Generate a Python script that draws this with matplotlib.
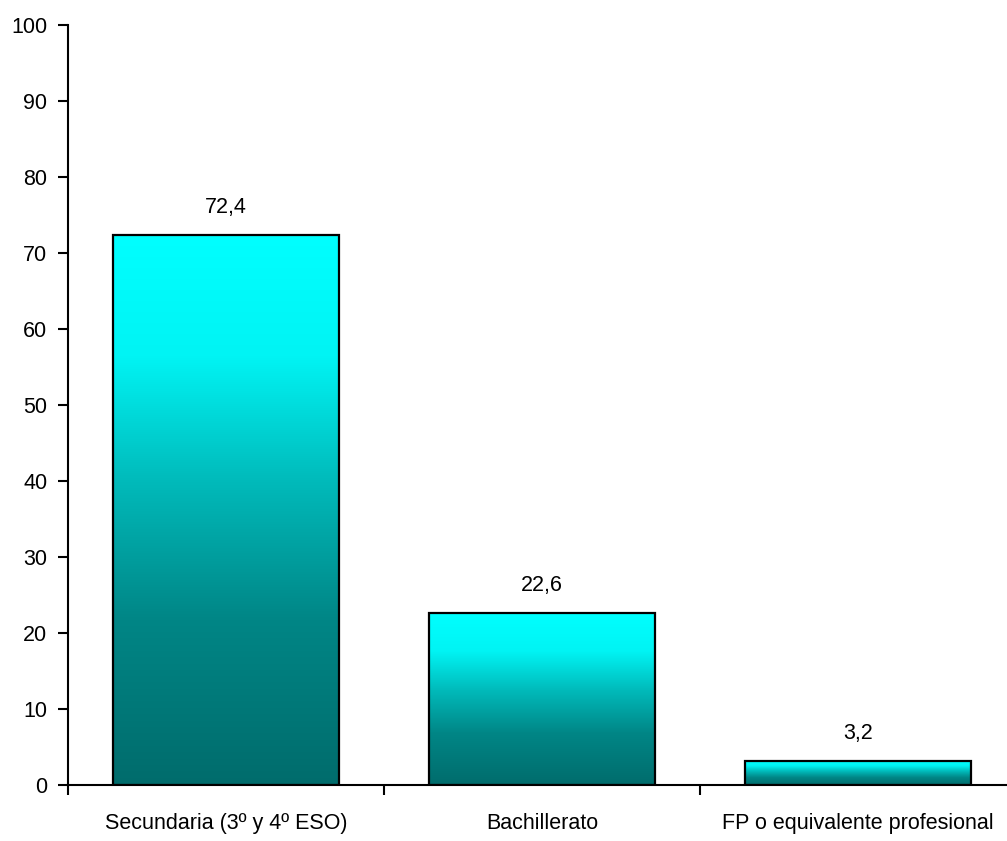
import matplotlib
matplotlib.use("Agg")
import matplotlib.pyplot as plt
import numpy as np
from matplotlib.colors import LinearSegmentedColormap

categories = ["Secundaria (3º y 4º ESO)", "Bachillerato", "FP o equivalente profesional"]
values = [72.4, 22.6, 3.2]
value_labels = ["72,4", "22,6", "3,2"]
yticks = [0, 10, 20, 30, 40, 50, 60, 70, 80, 90, 100]

plt.rcParams['font.family'] = ['Liberation Sans', 'DejaVu Sans']
FS = 15.5

W, H = 1007, 841
fig = plt.figure(figsize=(W / 100, H / 100), dpi=100)
ax = fig.add_axes([68 / W, (H - 785) / H, 948 / W, 760 / H])

cmap = LinearSegmentedColormap.from_list(
    "tealgrad",
    [(0.0, "#006c6c"), (0.3, "#008686"), (0.55, "#00baba"), (0.78, "#00f4f4"), (1.0, "#00ffff")])

x = np.arange(len(categories))
bw = 0.715
bars = ax.bar(x, values, width=bw, facecolor="none", edgecolor="black", linewidth=1.6, zorder=3)
grad = np.linspace(0, 1, 256).reshape(-1, 1)
for b in bars:
    x0, y0 = b.get_x(), b.get_y()
    w, h = b.get_width(), b.get_height()
    im = ax.imshow(grad, cmap=cmap, origin="lower", aspect="auto",
                   extent=[x0, x0 + w, y0, y0 + h], zorder=2)
    im.set_clip_path(b)

for xi, v, lab in zip(x, values, value_labels):
    ax.annotate(lab, (xi, v), xytext=(0, 22), textcoords="offset pixels",
                ha="center", va="baseline", fontsize=FS)

ax.set_xlim(-0.5, 2.5)
ax.set_ylim(0, 100)
ax.set_yticks(yticks)
ax.set_yticklabels([str(t) for t in yticks], fontsize=FS)
ax.set_xticks(x)
ax.set_xticklabels(categories, fontsize=FS)
ax.set_xticks([-0.5, 0.5, 1.5, 2.5], minor=True)
ax.tick_params(axis="x", which="major", length=0, pad=20)
ax.tick_params(axis="x", which="minor", length=7, width=1.5, direction="out")
ax.tick_params(axis="y", which="major", length=7, width=1.5, pad=8, direction="out")
for s in ["top", "right"]:
    ax.spines[s].set_visible(False)
for s in ["left", "bottom"]:
    ax.spines[s].set_linewidth(1.5)

fig.savefig("out.png", dpi=100)
